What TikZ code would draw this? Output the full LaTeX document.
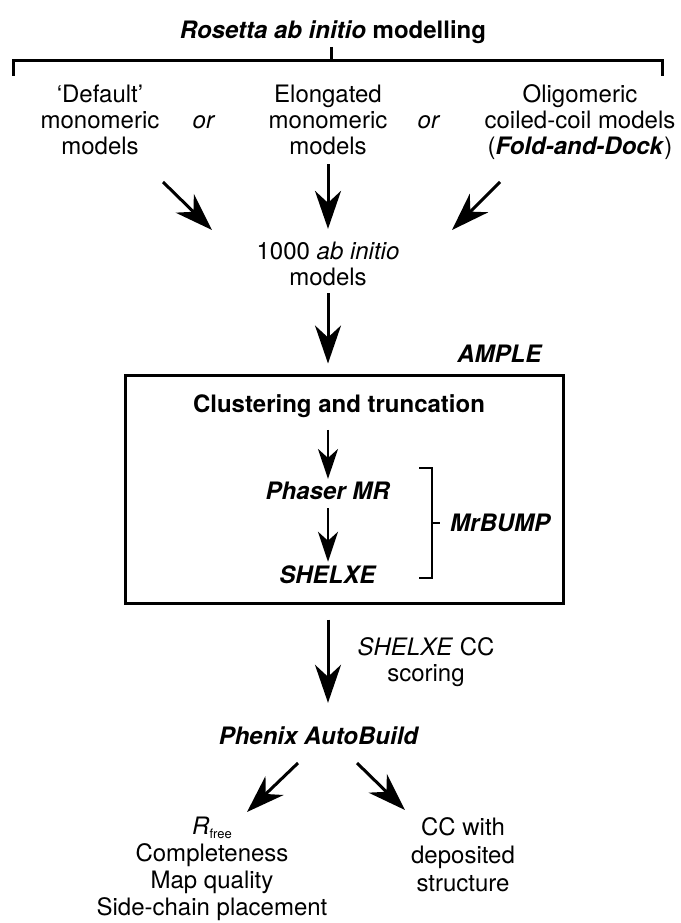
\documentclass[tikz,border=0pt]{standalone}
\usepackage{fontspec}
\setmainfont{TeX Gyre Heros}
\usetikzlibrary{arrows.meta,positioning}

\tikzset{
  lbl/.style={align=center, inner sep=0pt, font=\fontsize{24}{26}\selectfont},
  bigarrow/.style={-{Stealth[length=38pt,width=26pt,inset=12pt]}, line width=3pt},
  smallarrow/.style={-{Stealth[length=30pt,width=20pt,inset=9pt]}, line width=2.5pt},
  frame/.style={line width=3pt},
}

\begin{document}
\begin{tikzpicture}[x=1pt, y=-1pt]
\useasboundingbox (0,0) rectangle (680,923);

% source of the models
\node[lbl] (title) at (333,32) {\textbf{\textit{Rosetta ab initio} modelling}};
\coordinate (tick) at (331,47);
\draw[frame] (13,76) -- (13,61) -- (662,61) -- (662,76);
\draw[frame] (tick) -- (331,61);

\node[lbl] (default) at (100,120) {`Default'\\monomeric\\models};
\node[lbl] (or1) at (204,122) {\textit{or}};
\node[lbl] (elong) at (328,120) {Elongated\\monomeric\\models};
\node[lbl] (or2) at (429,122) {\textit{or}};
\node[lbl] (oligo) at (580,122) {Oligomeric\\coiled-coil models\\(\textbf{\textit{Fold-and-Dock}})};

\node[lbl] (abinit) at (328,264) {1000 \textit{ab initio}\\models};

\coordinate (d0) at (163,182);
\coordinate (d1) at (212,230);
\coordinate (o0) at (500,182);
\coordinate (o1) at (452,230);
\draw[bigarrow] (d0) -- (d1);
\draw[bigarrow, shorten <=9pt, shorten >=13pt] (elong) -- (abinit);
\draw[bigarrow] (o0) -- (o1);

% AMPLE pipeline
\node[lbl] (ample) at (500,354) {\textbf{\textit{AMPLE}}};
\node[draw, frame, minimum width=438pt, minimum height=228pt] (amplebox) at (344,489) {};
\draw[bigarrow, shorten <=7pt, shorten >=10pt] (abinit) -- (amplebox.north -| abinit);

\node[lbl] (clust) at (339,406) {\textbf{Clustering and truncation}};
\node[lbl] (phaser) at (328,491) {\textbf{\textit{Phaser MR}}};
\node[lbl] (shelxe) at (328,575) {\textbf{\textit{SHELXE}}};
\draw[smallarrow, shorten <=12pt, shorten >=3pt] (clust.south -| phaser) -- (phaser);
\draw[smallarrow, shorten <=8pt, shorten >=4pt] (phaser) -- (shelxe);

\draw[line width=2pt] (419,468) -- (432,468) -- (432,578) -- (419,578);
\draw[line width=2pt] (432,523) -- (440,523);
\node[lbl, anchor=west] (mrbump) at (450,523) {\textbf{\textit{MrBUMP}}};

% model building
\node[lbl] (phenix) at (319,736) {\textbf{\textit{Phenix AutoBuild}}};
\draw[bigarrow, shorten <=15pt, shorten >=24pt] (amplebox.south -| shelxe) -- (phenix.north -| shelxe);
\node[lbl] (cclbl) at (426,662) {\textit{SHELXE} CC\\scoring};

\node[lbl, font=\fontsize{24}{27}\selectfont] (metrics) at (212,869)
  {\textit{R}\raisebox{-4pt}{\fontsize{13}{13}\selectfont free}\\Completeness\\Map quality\\Side-chain placement};
\node[lbl, font=\fontsize{24}{28}\selectfont] (ccdep) at (463,855) {CC with\\deposited\\structure};

\coordinate (p0) at (298,763);
\coordinate (p1) at (247,812);
\coordinate (q0) at (357,763);
\coordinate (q1) at (405,810);
\draw[bigarrow] (p0) -- (p1);
\draw[bigarrow] (q0) -- (q1);
\end{tikzpicture}
\end{document}
